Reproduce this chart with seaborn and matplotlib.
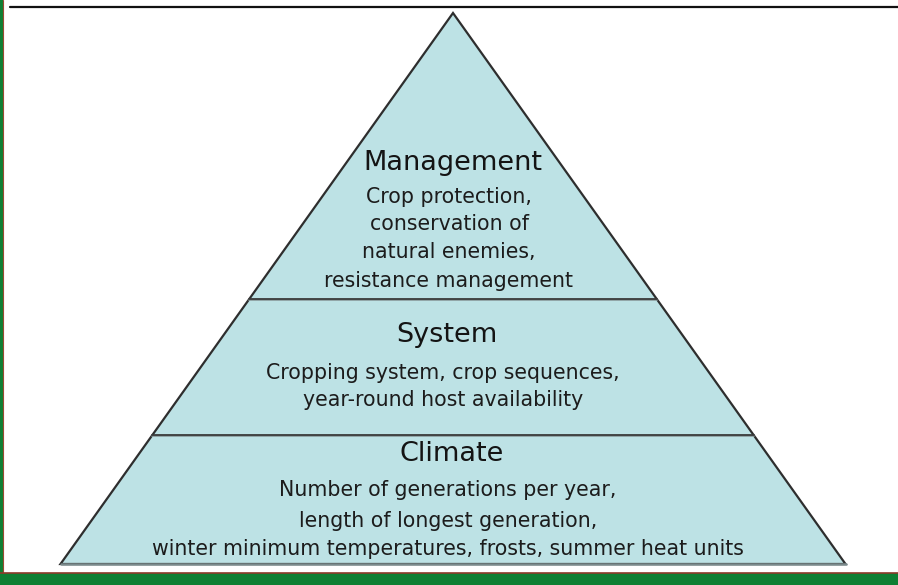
import numpy as np
import seaborn as sns
import matplotlib.pyplot as plt
from matplotlib.patches import Polygon, Rectangle

# pyramid tiers, top to bottom
tiers = ["Management", "System", "Climate"]
details = [
    ["Crop protection,", "conservation of", "natural enemies,", "resistance management"],
    ["Cropping system, crop sequences,", "year-round host availability"],
    ["Number of generations per year,", "length of longest generation,",
     "winter minimum temperatures, frosts, summer heat units"],
]
# tier boundaries as fraction of pyramid height from the apex
bounds = [0.0, 0.519, 0.766, 1.0]

sns.set_theme(style="white")
plt.rcParams['font.family'] = ['DejaVu Sans']

fig = plt.figure(figsize=(8.98, 5.85), dpi=100)
ax = fig.add_axes([0, 0, 1, 1])
ax.set_xlim(0, 898)
ax.set_ylim(585, 0)
ax.axis('off')

apex = (453, 13)
base_y = 564
half_w = 392.5
H = base_y - apex[1]

fill = '#bde2e5'
edge = '#2e2e2e'

tri = Polygon([apex, (apex[0] - half_w, base_y), (apex[0] + half_w, base_y)],
              closed=True, facecolor=fill, edgecolor=edge, lw=1.6, joinstyle='miter')
ax.add_patch(tri)
# base line lighter gray
ax.plot([apex[0] - half_w, apex[0] + half_w], [base_y, base_y], color='#7a8a8c', lw=1.8)

for f in bounds[1:-1]:
    y = apex[1] + f * H
    w = half_w * f
    ax.plot([apex[0] - w, apex[0] + w], [y + 1.2, y + 1.2], color='#8a9a9c', lw=1.2)
    ax.plot([apex[0] - w, apex[0] + w], [y, y], color='#3a3a3a', lw=1.3)

# tier labels
head_y = [163, 335, 454]
body_y = [[197, 224, 252, 281], [373, 400], [490, 521, 549]]
centers = [453, 447, 452]
for name, hy, lines, ys, cx in zip(tiers, head_y, details, body_y, centers):
    ax.text(cx, hy, name, ha='center', va='center', fontsize=19.5, color='#141414')
    for t, y in zip(lines, ys):
        ax.text(cx - 4, y, t, ha='center', va='center', fontsize=14.8, color='#1c1c1c')

# frame: top rule, green border, brown hairline
ax.plot([10, 898], [6.5, 6.5], color='#111111', lw=1.6)
ax.add_patch(Rectangle((0, 0), 2.5, 585, facecolor='#0e7f33', edgecolor='none'))
ax.plot([3, 3], [0, 573], color='#9a4a32', lw=0.8)
ax.add_patch(Rectangle((0, 573), 898, 12, facecolor='#0e7f33', edgecolor='none'))
ax.plot([0, 898], [572.5, 572.5], color='#8b3a2a', lw=1.2)

fig.savefig('out.png', dpi=100)
